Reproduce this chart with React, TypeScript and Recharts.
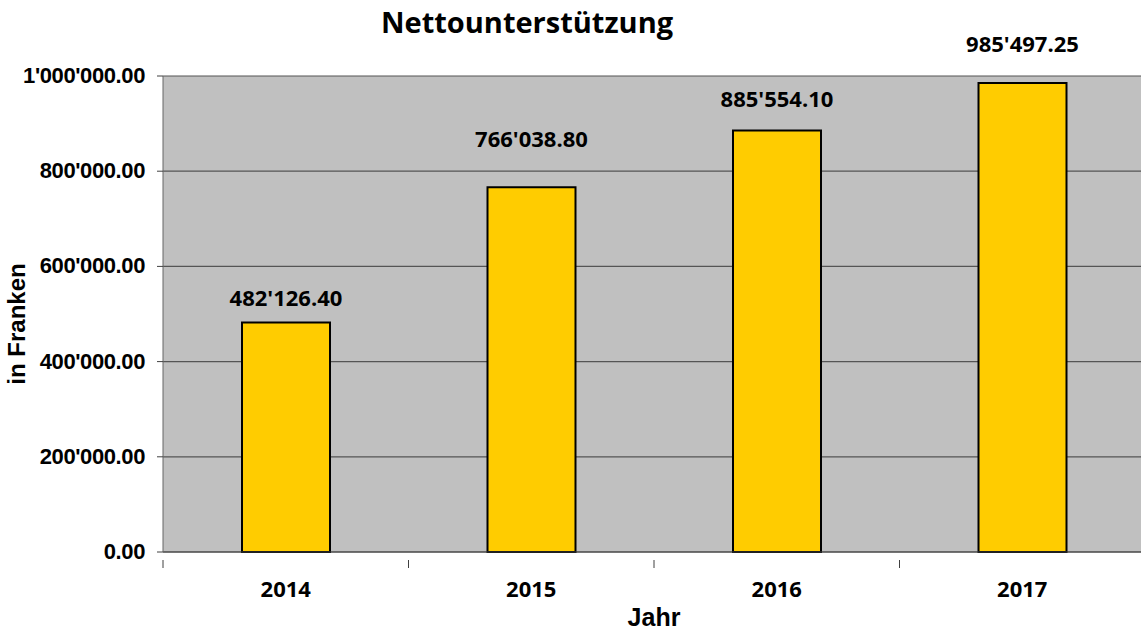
import React from 'react';
import {
  BarChart,
  Bar,
  XAxis,
  YAxis,
  CartesianGrid,
  LabelList,
  Label,
} from 'recharts';

const years = ['2014', '2015', '2016', '2017'];
const amounts = [482126.4, 766038.8, 885554.1, 985497.25];
const yTicks = [0, 200000, 400000, 600000, 800000, 1000000];

const data = years.map((year, i) => ({ year, amount: amounts[i] }));

const W = 1141;
const H = 633;
const Y_AXIS_W = 163;
const RIGHT = -4;
const band = (W - RIGHT - Y_AXIS_W) / years.length;
// gap between label baseline and bar top, as placed in the original
const labelGaps = [17, 40, 23, 31];

const fmt = (v: number) => {
  const [int, dec] = Number(v).toFixed(2).split('.');
  return int.replace(/\B(?=(\d{3})+(?!\d))/g, "'") + '.' + dec;
};

const XTick = (props: any) => {
  const { x, y, payload } = props;
  return (
    <g>
      <line x1={x - band / 2} y1={y} x2={x - band / 2} y2={y + 8} stroke="#404040" />
      <text
        x={x}
        y={y + 37}
        textAnchor="middle"
        fontFamily="Open Sans"
        fontWeight="bold"
        fontSize={22}
        fill="#000"
      >
        {payload.value}
      </text>
    </g>
  );
};

const YTick = (props: any) => {
  const { x, y, payload } = props;
  return (
    <text
      x={x}
      y={y}
      dy={7}
      textAnchor="end"
      fontFamily="Liberation Sans"
      fontWeight="bold"
      fontSize={22}
      letterSpacing={-0.4}
      fill="#000"
    >
      {fmt(payload.value)}
    </text>
  );
};

const BarValue = (props: any) => {
  const { x, y, width, value, index } = props;
  return (
    <text
      x={x + width / 2}
      y={y - labelGaps[index]}
      textAnchor="middle"
      fontFamily="Open Sans"
      fontWeight="bold"
      fontSize={22}
      fill="#000"
    >
      {fmt(value)}
    </text>
  );
};

const YTitle = () => (
  <text
    x={0}
    y={0}
    transform="translate(25, 324) rotate(-90)"
    textAnchor="middle"
    fontFamily="Liberation Sans"
    fontWeight="bold"
    fontSize={24}
    fill="#000"
  >
    in Franken
  </text>
);

const App: React.FC = () => {
  return (
    <div style={{ position: 'absolute', left: 0, top: 0, width: W, height: H, background: '#fff', overflow: 'hidden' }}>
      <BarChart
        width={W}
        height={H}
        data={data}
        margin={{ top: 76, right: RIGHT, bottom: 0, left: 0 }}
        barSize={88}
        style={{ overflow: 'hidden' }}
      >
        <text
          x={527}
          y={33}
          textAnchor="middle"
          fontFamily="Open Sans"
          fontWeight="bold"
          fontSize={29}
          fill="#000"
        >
          Nettounterstützung
        </text>
        <CartesianGrid vertical={false} fill="#C0C0C0" stroke="#555" strokeWidth={1.2} />
        <XAxis
          dataKey="year"
          height={81}
          axisLine={{ stroke: '#404040' }}
          tickLine={false}
          tick={<XTick />}
          interval={0}
        >
          <Label
            content={() => (
              <text
                x={654}
                y={626}
                textAnchor="middle"
                fontFamily="Liberation Sans"
                fontWeight="bold"
                fontSize={25}
                fill="#000"
              >
                Jahr
              </text>
            )}
          />
        </XAxis>
        <YAxis
          width={Y_AXIS_W}
          domain={[0, 1000000]}
          ticks={yTicks}
          interval={0}
          axisLine={{ stroke: '#666' }}
          tickLine={{ stroke: '#404040' }}
          tickSize={6}
          tickMargin={12}
          tick={<YTick />}
        >
          <Label content={<YTitle />} />
        </YAxis>
        <Bar dataKey="amount" fill="#FFCC00" stroke="#000" strokeWidth={2} isAnimationActive={false}>
          <LabelList dataKey="amount" content={<BarValue />} />
        </Bar>
      </BarChart>
    </div>
  );
};

export default App;
